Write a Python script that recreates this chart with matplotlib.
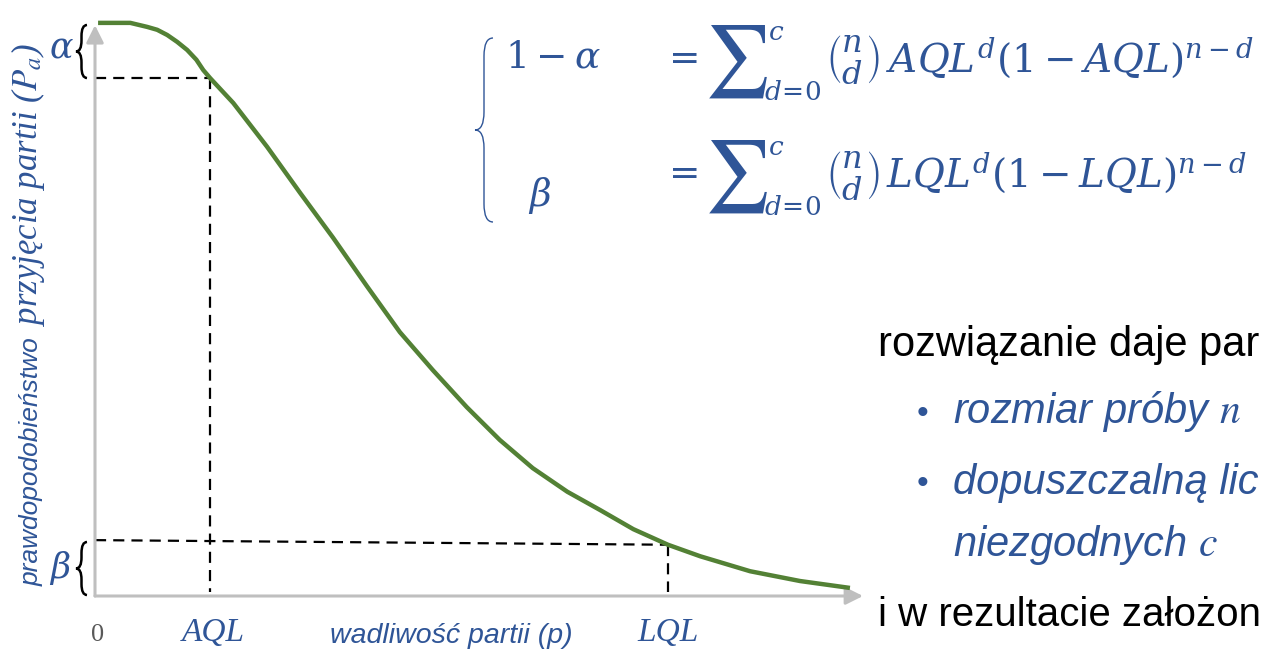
import matplotlib
matplotlib.use('Agg')
import matplotlib.pyplot as plt
from matplotlib.path import Path
from matplotlib.patches import PathPatch

plt.rcParams['mathtext.fontset'] = 'stix'

W, H = 1266, 653
BLUE = '#2F5597'
GREEN = '#538135'
GRAY = '#BFBFBF'

# OC curve (both axes normalised to 0..1)
p = [0.004, 0.046, 0.068, 0.081, 0.094, 0.107, 0.120, 0.132, 0.141, 0.150,
     0.180, 0.224, 0.267, 0.310, 0.354, 0.397, 0.440, 0.484, 0.527, 0.570,
     0.615, 0.658, 0.701, 0.746, 0.788, 0.853, 0.918, 0.983]
pa = [0.995, 0.995, 0.988, 0.983, 0.974, 0.962, 0.948, 0.931, 0.913, 0.899,
      0.856, 0.780, 0.700, 0.622, 0.538, 0.458, 0.392, 0.328, 0.271, 0.222,
      0.181, 0.149, 0.116, 0.089, 0.069, 0.043, 0.026, 0.014]

AQL, LQL = 0.150, 0.746
pa_aql = 0.899
pa_lql = 0.089
pa_beta_left = 0.097

fig = plt.figure(figsize=(W / 100, H / 100), dpi=100)

# main plot area: origin at pixel (95, 596)
ax = fig.add_axes([95 / W, (H - 596) / H, 768 / W, 576 / H])
ax.set_xlim(0, 1)
ax.set_ylim(0, 1)
ax.axis('off')

# axes drawn as grey arrows
arrow = dict(arrowstyle='-|>', color=GRAY, lw=2.2, mutation_scale=26,
             shrinkA=0, shrinkB=0)
ax.annotate('', xy=(1, 0), xytext=(0, 0), arrowprops=arrow, annotation_clip=False)
ax.annotate('', xy=(0, 0.991), xytext=(0, 0), arrowprops=arrow, annotation_clip=False)

# dashed guide lines
dash = dict(color='black', lw=1.6, ls=(0, (5, 3.2)))
ax.plot([0, AQL], [pa_aql, pa_aql], **dash)
ax.plot([AQL, AQL], [pa_aql, 0.007], **dash)
ax.plot([0, LQL], [pa_beta_left, pa_lql], **dash)
ax.plot([LQL, LQL], [pa_lql, 0.007], **dash)

# the curve
ax.plot(p, pa, color=GREEN, lw=3.2, solid_capstyle='butt', solid_joinstyle='round',
        clip_on=False, zorder=5)

# tick-like labels below the x axis
ax.text(0.003, -0.068, '0', ha='center', va='center', fontsize=19,
        family='Liberation Serif', color='#595959')
ax.text(AQL + 0.004, -0.064, 'AQL', ha='center', va='center', fontsize=24,
        family='Liberation Serif', style='italic', color=BLUE)
ax.text(LQL, -0.064, 'LQL', ha='center', va='center', fontsize=24,
        family='Liberation Serif', style='italic', color=BLUE)
ax.text(0.464, -0.07, 'wadliwość partii (p)', ha='center', va='center', fontsize=20.5,
        family='Liberation Sans', style='italic', color=BLUE)

# overlay in pixel coordinates for the annotations
ov = fig.add_axes([0, 0, 1, 1])
ov.set_xlim(0, W)
ov.set_ylim(H, 0)
ov.axis('off')


def brace(x, y0, y1, w, color, lw):
    ym = (y0 + y1) / 2
    r = min(w, (y1 - y0) / 4)
    xm = x - w / 2
    verts = [(x, y0), (xm, y0), (xm, y0 + r),
             (xm, ym - r),
             (xm, ym), (x - w, ym),
             (xm, ym), (xm, ym + r),
             (xm, y1 - r),
             (xm, y1), (x, y1)]
    codes = [Path.MOVETO, Path.CURVE3, Path.CURVE3,
             Path.LINETO,
             Path.CURVE3, Path.CURVE3,
             Path.CURVE3, Path.CURVE3,
             Path.LINETO,
             Path.CURVE3, Path.CURVE3]
    ov.add_patch(PathPatch(Path(verts, codes), fc='none', ec=color, lw=lw))


def eq(x, y, s, size=27):
    ov.text(x, y, s, fontsize=size, color=BLUE, ha='left', va='center',
            math_fontfamily='dejavuserif')


# alpha / beta braces on the y axis
brace(87, 25, 78, 11, 'black', 1.8)
brace(87, 542, 595, 11, 'black', 1.8)
ov.text(61, 48, r'$\alpha$', fontsize=25, color=BLUE, ha='center', va='center',
        math_fontfamily='dejavuserif')
ov.text(60, 568, r'$\beta$', fontsize=25, color=BLUE, ha='center', va='center',
        math_fontfamily='dejavuserif')

# y axis label (sans + serif parts)
ov.text(32, 586, 'prawdopodobieństwo', rotation=90, ha='center', va='bottom',
        fontsize=19, family='Liberation Sans', style='italic', color=BLUE)
ov.text(28, 333, ' przyjęcia partii ($P_a$)', rotation=90, ha='center', va='bottom',
        fontsize=25, family='Liberation Serif', style='italic', color=BLUE)

# equation system
brace(493, 38, 222, 18, BLUE, 1.0)
rows = [(58, r'$1-\alpha$', 505, 57, 'AQL'),
        (173, r'$\beta$', 528, 195, 'LQL')]
for yc, lhs, xl, yl, q in rows:
    eq(xl, yl, lhs)
    eq(661, yc, r'$=$')
    ov.text(704, yc + 4, r'$\sum$', fontsize=52, color=BLUE, ha='left', va='center')
    eq(768, yc - 25, r'$c$', 19)
    eq(764, yc + 35, r'$d\!=\!0$', 19)
    eq(826, yc + 2, r'$\genfrac{(}{)}{0}{0}{n}{d}$', 23)
    eq(886, yc, r'$%s^{d}(1-%s)^{n-d}$' % (q, q), 28)

# text on the right (cut by the slide edge)
ov.text(878, 345, 'rozwiązanie daje par', fontsize=30, family='Liberation Sans',
        color='black', ha='left', va='center')
ov.text(917, 414, '•', fontsize=24, family='Liberation Sans', color=BLUE,
        ha='left', va='center')
ov.text(953, 412, 'rozmiar próby $n$', fontsize=30, family='Liberation Sans',
        style='italic', color=BLUE, ha='left', va='center')
ov.text(917, 485, '•', fontsize=24, family='Liberation Sans', color=BLUE,
        ha='left', va='center')
ov.text(953, 483, 'dopuszczalną lic', fontsize=30, family='Liberation Sans',
        style='italic', color=BLUE, ha='left', va='center')
ov.text(953, 545, 'niezgodnych $c$', fontsize=30, family='Liberation Sans',
        style='italic', color=BLUE, ha='left', va='center')
ov.text(878, 615, 'i w rezultacie założon', fontsize=29, family='Liberation Sans',
        color='black', ha='left', va='center')

fig.savefig('out.png', dpi=100)
